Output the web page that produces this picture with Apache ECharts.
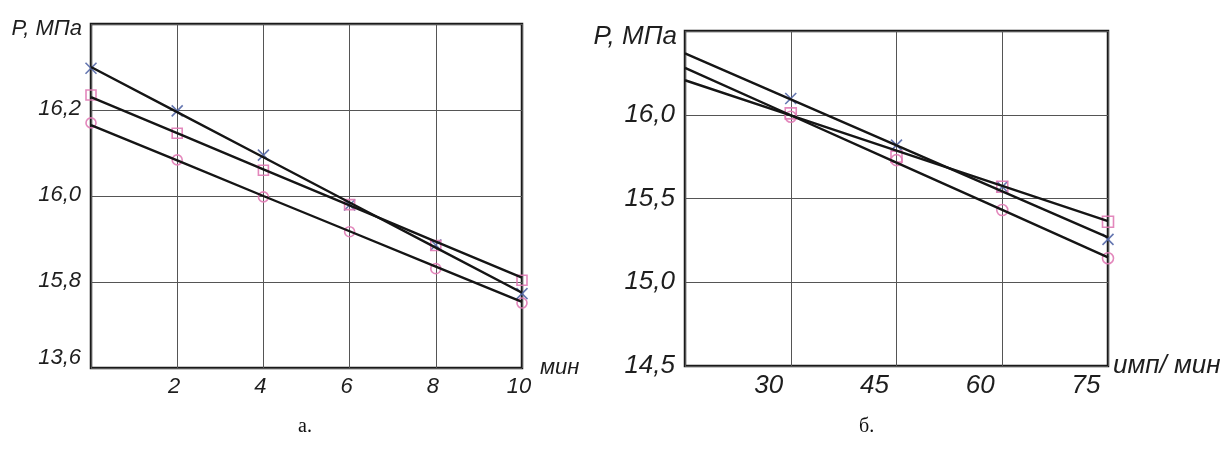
<!DOCTYPE html>
<html>
<head>
<meta charset="utf-8">
<script src="https://cdn.jsdelivr.net/npm/echarts@6/dist/echarts.min.js"></script>
<style>
html,body{margin:0;padding:0;background:#fff;}
#c{width:1229px;height:450px;}
</style>
</head>
<body>
<div id="c"></div>
<script>
// ---- Panel а (time, minutes) ----
const minutes = [0, 2, 4, 6, 8, 10];
const aCrossFit  = [16.300, 16.195, 16.090, 15.985, 15.880, 15.775];
const aSquareFit = [16.230, 16.146, 16.062, 15.978, 15.894, 15.810];
const aCircleFit = [16.165, 16.083, 16.000, 15.918, 15.836, 15.754];
const aCross  = [16.297, 16.198, 16.095, 15.979, 15.886, 15.773];
const aSquare = [16.235, 16.146, 16.060, 15.980, 15.885, 15.804];
const aCircle = [16.170, 16.084, 15.998, 15.917, 15.831, 15.751];
const aYTicks = ['13,6', '15,8', '16,0', '16,2', ''];
const aXTicks = ['', '2', '4', '6', '8', '10'];

// ---- Panel б (rate, imp/min) ----
const rateFit = [15, 30, 45, 60, 75];
const rate = [30, 45, 60, 75];
const bCrossFit  = [16.366, 16.092, 15.817, 15.543, 15.268];
const bSquareFit = [16.206, 15.996, 15.786, 15.575, 15.365];
const bCircleFit = [16.280, 15.997, 15.714, 15.432, 15.149];
const bCross  = [16.097, 15.819, 15.570, 15.256];
const bSquare = [16.008, 15.750, 15.570, 15.361];
const bCircle = [15.988, 15.729, 15.431, 15.143];
const bYTicks = ['14,5', '15,0', '15,5', '16,0', ''];
const bXTicks = ['', '30', '45', '60', '75'];

const yTitle = 'P, МПа';
const aXName = 'мин';
const bXName = 'имп/ мин';
const captions = ['а.', 'б.'];

const narrow = "'Liberation Sans Narrow', 'Liberation Sans', Arial, sans-serif";
const sans = "'Liberation Sans', Arial, sans-serif";
const txt = '#1e1e1e';
const pink = '#e07bb5';
const blue = '#5468a8';
const crossPath = 'path://M0,0L10,10M10,0L0,10';

function zip(xs, ys) { return xs.map((x, i) => [x, ys[i]]); }
function tickIdx(v, min, step) { return Math.round((v - min) / step); }

const chart = echarts.init(document.getElementById('c'), null, {renderer: 'canvas'});

function lineSeries(xi, xs, ys) {
  return {type: 'line', xAxisIndex: xi, yAxisIndex: xi, data: zip(xs, ys), symbol: 'none',
    lineStyle: {color: '#151515', width: 2.4}, z: 5, silent: true, animation: false};
}
function markSeries(xi, xs, ys, sym, col, size) {
  return {type: 'scatter', xAxisIndex: xi, yAxisIndex: xi, data: zip(xs, ys), symbol: sym,
    symbolSize: size, clip: false, z: 4, silent: true, animation: false,
    itemStyle: {color: 'none', borderColor: col, borderWidth: 1.6, opacity: 0.9}};
}

const gridCommon = {show: true, borderColor: '#1a1a1a', borderWidth: 2.5, backgroundColor: '#fff'};

chart.setOption({
  animation: false,
  title: [
    {text: captions[0], left: 293, top: 412, textStyle: {fontFamily: "'Liberation Serif', serif", fontWeight: 'normal', fontSize: 20, color: '#111'}},
    {text: captions[1], left: 854, top: 412, textStyle: {fontFamily: "'Liberation Serif', serif", fontWeight: 'normal', fontSize: 20, color: '#111'}}
  ],
  grid: [
    Object.assign({left: 91, top: 24, width: 431, height: 344}, gridCommon),
    Object.assign({left: 685, top: 31, width: 423, height: 335}, gridCommon)
  ],
  xAxis: [
    {gridIndex: 0, type: 'value', min: 0, max: 10, interval: 2,
     name: aXName, nameLocation: 'end', nameGap: 18, nameMoveOverlap: false,
     nameTextStyle: {fontFamily: narrow, fontStyle: 'italic', fontSize: 22, color: txt, align: 'left', verticalAlign: 'middle', padding: [0, 0, 12, 0]},
     axisLine: {show: false}, axisTick: {show: false},
     splitLine: {show: true, lineStyle: {color: '#555', width: 1}},
     axisLabel: {margin: 8, fontFamily: narrow, fontStyle: 'italic', fontSize: 22, color: txt, padding: [0, 6, 0, 0],
       formatter: v => aXTicks[tickIdx(v, 0, 2)]}},
    {gridIndex: 1, type: 'value', min: 15, max: 75, interval: 15,
     name: bXName, nameLocation: 'end', nameGap: 5, nameMoveOverlap: false,
     nameTextStyle: {fontFamily: sans, fontStyle: 'italic', fontSize: 26, color: txt, align: 'left', verticalAlign: 'middle', padding: [0, 0, 22, 0]},
     axisLine: {show: false}, axisTick: {show: false},
     splitLine: {show: true, lineStyle: {color: '#555', width: 1}},
     axisLabel: {margin: 7, fontFamily: sans, fontStyle: 'italic', fontSize: 26, color: txt, padding: [0, 44, 0, 0],
       formatter: v => bXTicks[tickIdx(v, 15, 15)]}}
  ],
  yAxis: [
    {gridIndex: 0, type: 'value', min: 15.6, max: 16.4, interval: 0.2,
     name: yTitle, nameLocation: 'end', nameGap: -5, nameMoveOverlap: false,
     nameTextStyle: {fontFamily: narrow, fontStyle: 'italic', fontSize: 22, color: txt, align: 'right', verticalAlign: 'middle', padding: [0, 9, 0, 0]},
     axisLine: {show: false}, axisTick: {show: false},
     splitLine: {show: true, lineStyle: {color: '#555', width: 1}},
     axisLabel: {margin: 10, fontFamily: narrow, fontStyle: 'italic', fontSize: 22, color: txt,
       formatter: v => { const i = tickIdx(v, 15.6, 0.2); const s = aYTicks[i]; if (!s) return ''; return i === 0 ? '{lo|' + s + '}' : '{n|' + s + '}'; },
       rich: {
         lo: {fontFamily: narrow, fontStyle: 'italic', fontSize: 22, color: txt, padding: [0, 0, 20, 0]},
         n: {fontFamily: narrow, fontStyle: 'italic', fontSize: 22, color: txt, padding: [0, 0, 3, 0]}
       }}},
    {gridIndex: 1, type: 'value', min: 14.5, max: 16.5, interval: 0.5,
     name: yTitle, nameLocation: 'end', nameGap: -6, nameMoveOverlap: false,
     nameTextStyle: {fontFamily: sans, fontStyle: 'italic', fontSize: 26, color: txt, align: 'right', verticalAlign: 'middle', padding: [0, 8, 0, 0]},
     axisLine: {show: false}, axisTick: {show: false},
     splitLine: {show: true, lineStyle: {color: '#555', width: 1}},
     axisLabel: {margin: 10, fontFamily: sans, fontStyle: 'italic', fontSize: 26, color: txt, padding: [0, 0, 16, 0],
       formatter: v => bYTicks[tickIdx(v, 14.5, 0.5)]}}
  ],
  series: [
    markSeries(0, minutes, aCross, crossPath, blue, 11),
    markSeries(0, minutes, aSquare, 'rect', pink, 10),
    markSeries(0, minutes, aCircle, 'circle', pink, 10),
    lineSeries(0, minutes, aCrossFit),
    lineSeries(0, minutes, aSquareFit),
    lineSeries(0, minutes, aCircleFit),
    markSeries(1, rate, bCross, crossPath, blue, 11),
    markSeries(1, rate, bSquare, 'rect', pink, 11),
    markSeries(1, rate, bCircle, 'circle', pink, 11),
    lineSeries(1, rateFit, bCrossFit),
    lineSeries(1, rateFit, bSquareFit),
    lineSeries(1, rateFit, bCircleFit)
  ]
});
</script>
</body>
</html>
